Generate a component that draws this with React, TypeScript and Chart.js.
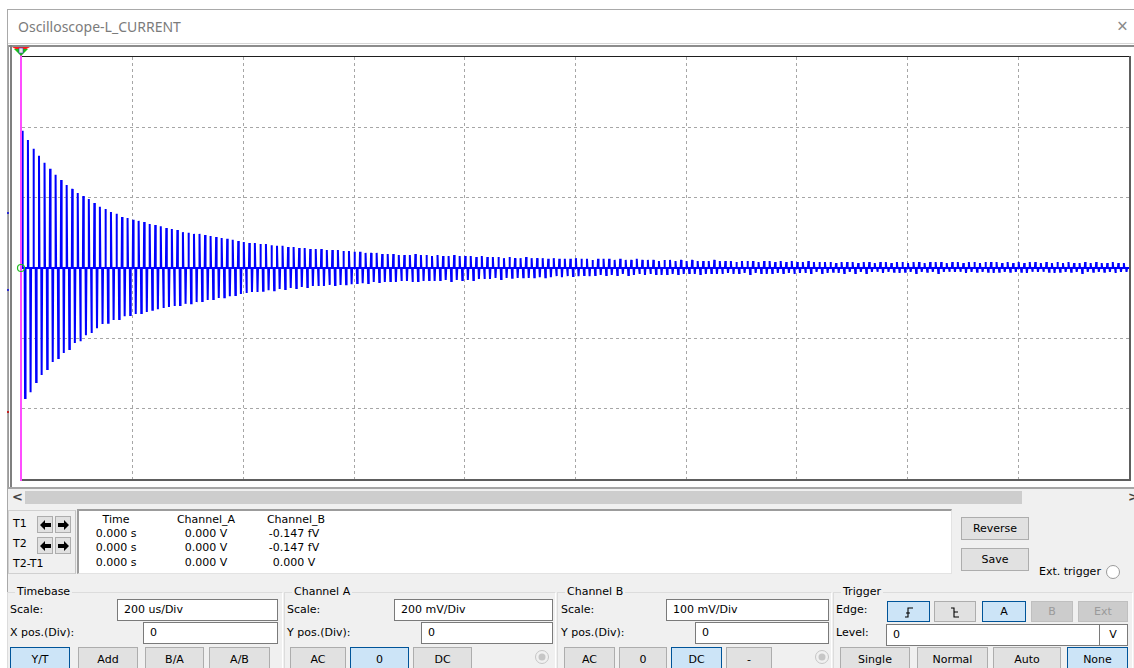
import React, { useEffect, useRef } from "react";
import { Chart, registerables } from "chart.js";

Chart.register(...registerables);

// ---- Scope settings ----
const TIME_MIN_US = 0;
const TIME_MAX_US = 2000; // 10 div x 200 us/Div
const TIME_STEP_US = 200;
const CHA_MIN_MV = -600; // 6 div x 200 mV/Div
const CHA_MAX_MV = 600;
const CHA_STEP_MV = 200;
const CHB_MIN_MV = -300; // 100 mV/Div
const CHB_MAX_MV = 300;
const CYCLE_US = 10; // one positive + one negative spike per cycle
const NEG_DELAY_US = 4.8;

// ---- Channel A: peak of each positive spike (mV), cycle by cycle ----
const posPeakMv = [
  390, 364, 339, 319, 299, 282, 265, 250, 236, 225, 213, 205, 196, 185, 174, 168, 159, 154, 145, 142, 137,
  134, 131, 125, 122, 119, 114, 111, 108, 102, 100, 97, 97, 94, 91, 88, 85, 83, 80, 77, 74,
  71, 71, 68, 68, 65, 63, 63, 60, 60, 57, 57, 54, 54, 54, 51, 51, 51,
  48, 48, 46, 46, 43, 43, 43, 40, 40, 40, 37,
  37, 37, 40, 37, 37, 34, 37, 34, 34, 37, 34, 34,
  34, 31, 34, 31, 31, 31, 28, 31, 28, 28, 31, 28, 28,
  28, 26, 28, 26, 26, 26, 28, 26, 26, 23, 26,
  26, 26, 23, 26, 23, 23, 26, 23, 23, 23, 20, 23, 23, 20, 23, 20, 23, 20,
  20, 20, 23, 20, 20, 20, 17, 20, 20, 20, 17, 20, 20, 17, 20, 17, 20, 17,
  17, 20, 17, 17, 17, 17, 14, 17, 17, 17, 14, 17, 17, 14, 17, 17, 14, 17,
  17, 14, 17, 17, 14, 17, 17, 17, 14, 17, 17, 14, 17, 17, 14, 17, 17, 17, 14,
  17, 14, 17, 14, 17, 17, 14, 17, 14, 17, 14, 17, 14, 14, 17, 14, 17, 14, 14, 17, 14, 14,
];

// ---- Channel A: depth of each negative spike (mV), cycle by cycle ----
const negPeakMv = [
  -370, -353, -324, -304, -287, -267, -256, -242, -230, -213, -208, -191, -185, -171, -159, -156, -148, -145, -137, -134, -131,
  -128, -125, -119, -117, -114, -111, -108, -105, -102, -100, -97, -94, -91, -88, -85, -83, -80, -77, -74, -71,
  -68, -68, -65, -63, -63, -60, -60, -57, -57, -54, -54, -51, -51, -51, -48, -48, -48,
  -46, -46, -43, -43, -43, -40, -40, -40, -37, -40, -37,
  -37, -40, -37, -37, -34, -37, -34, -34, -37, -34, -34, -34,
  -34, -31, -31, -31, -28, -31, -28, -28, -28, -26, -28, -26, -26,
  -26, -26, -23, -26, -23, -23, -23, -20, -23, -20, -20,
  -20, -20, -20, -17, -20, -20, -17, -20, -17, -17, -20, -17, -17, -17, -17, -14, -17, -17,
  -17, -14, -17, -17, -14, -17, -14, -14, -17, -14, -14, -17, -14, -14, -14, -14, -17, -14,
  -14, -14, -11, -14, -14, -11, -14, -14, -11, -14, -11, -14, -11, -11, -14, -11, -11, -14,
  -11, -11, -14, -11, -11, -11, -14, -11, -11, -11, -11, -14, -11, -11, -11, -11, -14, -11, -11,
  -11, -11, -11, -14, -11, -11, -11, -11, -14, -11, -11, -11, -11, -14, -11, -11, -11, -11, -11, -14, -11, -11,
];

// ---- Channel B trace (time us, value mV) ----
const chBTimeUs = [0, 0, 2000];
const chBValueMv = [100, 0, 0];

// ---- Readout table ----
const readHeaders = ["Time", "Channel_A", "Channel_B"];
const readRows = [
  ["0.000 s", "0.000 V", "-0.147 fV"],
  ["0.000 s", "0.000 V", "-0.147 fV"],
  ["0.000 s", "0.000 V", "0.000 V"],
];

const FONT = '"DejaVu Sans", Verdana, sans-serif';

type TxtProps = { x: number; y: number; children: React.ReactNode; center?: boolean; color?: string; size?: number; font?: string; weight?: number };
function Txt({ x, y, children, center, color = "#000", size = 11, font = FONT, weight }: TxtProps) {
  return (
    <div
      style={{
        position: "absolute",
        left: x,
        top: y - 8,
        height: 16,
        lineHeight: "16px",
        fontSize: size,
        fontFamily: font,
        fontWeight: weight,
        color,
        whiteSpace: "nowrap",
        transform: center ? "translateX(-50%)" : undefined,
      }}
    >
      {children}
    </div>
  );
}

function Box({ x, y, w, h, style }: { x: number; y: number; w: number; h: number; style?: React.CSSProperties }) {
  return <div style={{ position: "absolute", left: x, top: y, width: w, height: h, boxSizing: "border-box", ...style }} />;
}

type BtnProps = { x: number; y: number; w: number; h: number; label?: React.ReactNode; state?: "n" | "s" | "d" };
function Btn({ x, y, w, h, label, state = "n" }: BtnProps) {
  const bg = state === "s" ? "#cce4f7" : state === "d" ? "#cccccc" : "#e1e1e1";
  const bd = state === "s" ? "#005499" : state === "d" ? "#bfbfbf" : "#adadad";
  const col = state === "d" ? "#9a9a9a" : "#000";
  return (
    <div
      style={{
        position: "absolute",
        left: x,
        top: y,
        width: w,
        height: h,
        boxSizing: "border-box",
        background: bg,
        border: `1px solid ${bd}`,
        color: col,
        fontFamily: FONT,
        fontSize: 11,
        display: "flex",
        alignItems: "center",
        justifyContent: "center",
      }}
    >
      {label}
    </div>
  );
}

function Input({ x, y, w, h, text }: { x: number; y: number; w: number; h: number; text: string }) {
  return (
    <div
      style={{
        position: "absolute",
        left: x,
        top: y,
        width: w,
        height: h,
        boxSizing: "border-box",
        background: "#fff",
        border: "1px solid #7a7a7a",
        fontFamily: FONT,
        fontSize: 11,
        lineHeight: `${h - 2}px`,
        paddingLeft: 6,
        whiteSpace: "nowrap",
      }}
    >
      {text}
    </div>
  );
}

function Arrow({ x, y, dir }: { x: number; y: number; dir: "l" | "r" }) {
  const pts = dir === "l" ? "2,8 7,3 7,6 13,6 13,10 7,10 7,13" : "13,8 8,3 8,6 2,6 2,10 8,10 8,13";
  return (
    <div style={{ position: "absolute", left: x, top: y, width: 16, height: 17, boxSizing: "border-box", background: "#e1e1e1", border: "1px solid #adadad" }}>
      <svg width={14} height={15} style={{ position: "absolute", left: 0, top: 0 }}>
        <polygon points={pts} fill="#000" />
      </svg>
    </div>
  );
}

function Radio({ x, y, disabled }: { x: number; y: number; disabled?: boolean }) {
  return (
    <svg width={16} height={16} style={{ position: "absolute", left: x - 8, top: y - 8 }}>
      <circle cx={8} cy={8} r={6.5} fill={disabled ? "#f0f0f0" : "#fff"} stroke={disabled ? "#c6c6c6" : "#9a9a9a"} strokeWidth={1} />
      {disabled && <circle cx={8} cy={8} r={3.5} fill="#c6c6c6" />}
    </svg>
  );
}

function Group({ x, y, w, label }: { x: number; y: number; w: number; label: string }) {
  return (
    <>
      <Box x={x} y={y} w={w} h={120} style={{ borderTop: "1px solid #dcdcdc", borderLeft: "1px solid #dcdcdc", borderRight: "1px solid #ffffff" }} />
      <div style={{ position: "absolute", left: x + 8, top: y - 8, height: 16, lineHeight: "16px", padding: "0 2px", background: "#f0f0f0", fontFamily: FONT, fontSize: 11 }}>{label}</div>
    </>
  );
}

export default function App() {
  const ref = useRef<HTMLCanvasElement>(null);

  useEffect(() => {
    document.body.style.margin = "0";
    const n = Math.min(posPeakMv.length, negPeakMv.length);
    const pts: { x: number; y: number }[] = [];
    for (let k = 0; k < n; k++) {
      const t = k * CYCLE_US;
      pts.push({ x: t, y: 0 });
      pts.push({ x: t + 0.7, y: posPeakMv[k] });
      pts.push({ x: t + 1.6, y: 0 });
      pts.push({ x: t + NEG_DELAY_US, y: 0 });
      pts.push({ x: t + NEG_DELAY_US + 0.7, y: negPeakMv[k] });
      pts.push({ x: t + NEG_DELAY_US + 1.6, y: 0 });
    }
    pts.push({ x: TIME_MAX_US, y: 0 });
    const ptsB = chBTimeUs.map((t, i) => ({ x: t, y: chBValueMv[i] }));

    const gridColor = (min: number, max: number) => (ctx: any) => {
      const v = ctx.tick ? ctx.tick.value : null;
      return v === min || v === max ? "rgba(0,0,0,0)" : "#a6a6a6";
    };

    const chart = new Chart(ref.current!, {
      type: "line",
      data: {
        datasets: [
          { label: "Channel_A", data: pts, borderColor: "#0000ff", borderWidth: 2, pointRadius: 0, tension: 0, yAxisID: "y" },
          { label: "Channel_B", data: ptsB, borderColor: "#ff6a1a", borderWidth: 1.5, pointRadius: 0, tension: 0, yAxisID: "yB" },
        ],
      },
      options: {
        animation: false,
        responsive: false,
        devicePixelRatio: 1,
        events: [],
        layout: { padding: 0 },
        plugins: { legend: { display: false }, tooltip: { enabled: false }, title: { display: false } },
        scales: {
          x: {
            type: "linear",
            min: TIME_MIN_US,
            max: TIME_MAX_US,
            ticks: { display: false, stepSize: TIME_STEP_US },
            grid: { color: gridColor(TIME_MIN_US, TIME_MAX_US), drawTicks: false, lineWidth: 1 },
            border: { display: false, dash: [3, 3] },
          },
          y: {
            type: "linear",
            min: CHA_MIN_MV,
            max: CHA_MAX_MV,
            ticks: { display: false, stepSize: CHA_STEP_MV },
            grid: { color: gridColor(CHA_MIN_MV, CHA_MAX_MV), drawTicks: false, lineWidth: 1 },
            border: { display: false, dash: [3, 3] },
          },
          yB: { type: "linear", display: false, min: CHB_MIN_MV, max: CHB_MAX_MV },
        },
      } as any,
    });
    return () => chart.destroy();
  }, []);

  const colX = [116, 206, 296];
  const rowY = [534, 548, 563];

  return (
    <div style={{ position: "fixed", left: 0, top: 0, width: 1134, height: 668, overflow: "hidden", background: "#fff", fontFamily: FONT }}>
      {/* window frame */}
      <Box x={7} y={9} w={1140} h={700} style={{ borderTop: "1px solid #a9a9a9", borderLeft: "1px solid #a9a9a9" }} />
      <Txt x={18} y={27} color="#7b7b7b" size={14} font='"Noto Sans", "Open Sans", sans-serif'>Oscilloscope-L_CURRENT</Txt>
      <Txt x={1117} y={26} color="#8a8a8a" size={19} font='"Noto Sans", sans-serif'>×</Txt>
      <Box x={8} y={43} w={1126} h={1} style={{ background: "#d6d6d6" }} />
      <Box x={8} y={45} w={1126} h={2} style={{ background: "#8c8c8c" }} />
      {/* left frame lines */}
      <Box x={8} y={45} w={1} h={444} style={{ background: "#9a9a9a" }} />
      <Box x={10} y={45} w={2} h={444} style={{ background: "#7f7f7f" }} />

      {/* plot */}
      <canvas ref={ref} width={1107} height={422} style={{ position: "absolute", left: 22, top: 57, width: 1107, height: 422 }} />
      <Box x={21} y={56} w={1110} h={1} style={{ background: "#1e1e1e" }} />
      <Box x={1129} y={56} w={2} h={425} style={{ background: "#5e5e5e" }} />
      <Box x={21} y={479} w={1110} h={2} style={{ background: "#5e5e5e" }} />
      <Box x={20} y={48} w={2} h={433} style={{ background: "#ff4dff" }} />
      <svg width={24} height={12} style={{ position: "absolute", left: 9, top: 46 }}>
        <polygon points="3,1 21,1 12,6" fill="#ff1a1a" />
        <polygon points="5,3 19,3 12,10" fill="#16c016" />
        <rect x={10} y={2} width={4} height={5} fill="#e8e8e8" stroke="#4040c0" strokeWidth={0.6} />
      </svg>
      <svg width={10} height={10} style={{ position: "absolute", left: 16, top: 263 }}>
        <circle cx={5} cy={5} r={3.5} fill="none" stroke="#22bb22" strokeWidth={1.2} />
      </svg>
      <Box x={7} y={212} w={2} h={2} style={{ background: "#2b2bd0" }} />
      <Box x={7} y={289} w={2} h={2} style={{ background: "#2b2bd0" }} />
      <Box x={7} y={411} w={2} h={2} style={{ background: "#c02020" }} />

      {/* below plot */}
      <Box x={8} y={487} w={1126} h={2} style={{ background: "#a5a5a5" }} />
      <Box x={8} y={489} w={1126} h={180} style={{ background: "#f0f0f0" }} />
      <Box x={25} y={491} w={997} h={13} style={{ background: "#cdcdcd" }} />
      <Txt x={12} y={497} color="#444" size={13} weight={700}>&lt;</Txt>
      <Txt x={1128} y={497} color="#444" size={13} weight={700}>&gt;</Txt>

      {/* cursor readout */}
      <Box x={8} y={510} w={68} h={64} style={{ border: "1px solid #d0d0d0", borderRight: "1px solid #c4c4c4" }} />
      <Txt x={13} y={524}>T1</Txt>
      <Txt x={13} y={544}>T2</Txt>
      <Txt x={13} y={564}>T2-T1</Txt>
      <Arrow x={37} y={516} dir="l" />
      <Arrow x={55} y={516} dir="r" />
      <Arrow x={37} y={537} dir="l" />
      <Arrow x={55} y={537} dir="r" />
      <Box x={77} y={509} w={875} h={65} style={{ background: "#fff", borderTop: "2px solid #9c9c9c", borderLeft: "2px solid #9c9c9c", borderRight: "1px solid #e3e3e3", borderBottom: "1px solid #e3e3e3" }} />
      {readHeaders.map((h, i) => (
        <Txt key={h} x={colX[i]} y={520} center>{h}</Txt>
      ))}
      {readRows.map((row, r) =>
        row.map((v, c) => (
          <Txt key={`${r}-${c}`} x={colX[c] - (c === 2 ? 2 : 0)} y={rowY[r]} center>{v}</Txt>
        ))
      )}
      <Btn x={961} y={517} w={68} h={23} label="Reverse" />
      <Btn x={961} y={548} w={68} h={23} label="Save" />
      <Txt x={1039} y={572}>Ext. trigger</Txt>
      <Radio x={1113} y={572} />

      {/* groups */}
      <Group x={7} y={592} w={276} label="Timebase" />
      <Group x={284} y={592} w={272} label="Channel A" />
      <Group x={557} y={592} w={275} label="Channel B" />
      <Group x={833} y={592} w={300} label="Trigger" />

      {/* timebase */}
      <Txt x={10} y={610}>Scale:</Txt>
      <Input x={117} y={599} w={161} h={22} text="200 us/Div" />
      <Txt x={10} y={633}>X pos.(Div):</Txt>
      <Input x={143} y={622} w={135} h={22} text="0" />
      <Btn x={10} y={647} w={60} h={24} label="Y/T" state="s" />
      <Btn x={78} y={647} w={60} h={24} label="Add" />
      <Btn x={145} y={647} w={59} h={24} label="B/A" />
      <Btn x={209} y={647} w={61} h={24} label="A/B" />

      {/* channel A */}
      <Txt x={287} y={610}>Scale:</Txt>
      <Input x={394} y={599} w={159} h={22} text="200 mV/Div" />
      <Txt x={287} y={633}>Y pos.(Div):</Txt>
      <Input x={421} y={622} w={132} h={22} text="0" />
      <Btn x={290} y={647} w={56} h={24} label="AC" />
      <Btn x={350} y={647} w={59} h={24} label="0" state="s" />
      <Btn x={413} y={647} w={59} h={24} label="DC" />
      <Radio x={542} y={657} disabled />

      {/* channel B */}
      <Txt x={561} y={610}>Scale:</Txt>
      <Input x={666} y={599} w={163} h={22} text="100 mV/Div" />
      <Txt x={561} y={633}>Y pos.(Div):</Txt>
      <Input x={695} y={622} w={134} h={22} text="0" />
      <Btn x={564} y={647} w={51} h={24} label="AC" />
      <Btn x={619} y={647} w={48} h={24} label="0" />
      <Btn x={671} y={647} w={51} h={24} label="DC" state="s" />
      <Btn x={726} y={647} w={46} h={24} label="-" />
      <Radio x={822} y={657} disabled />

      {/* trigger */}
      <Txt x={836} y={610}>Edge:</Txt>
      <Btn
        x={887}
        y={601}
        w={43}
        h={21}
        state="s"
        label={
          <svg width={12} height={12}>
            <path d="M2 11 H5 V2 H10 M3 7 H7" stroke="#000" strokeWidth={1.1} fill="none" />
          </svg>
        }
      />
      <Btn
        x={934}
        y={601}
        w={42}
        h={21}
        label={
          <svg width={12} height={12}>
            <path d="M2 2 H5 V11 H10 M5 6 H9" stroke="#000" strokeWidth={1.1} fill="none" />
          </svg>
        }
      />
      <Btn x={982} y={601} w={44} h={21} label="A" state="s" />
      <Btn x={1031} y={601} w={42} h={21} label="B" state="d" />
      <Btn x={1078} y={601} w={50} h={21} label="Ext" state="d" />
      <Txt x={836} y={633}>Level:</Txt>
      <Input x={886} y={624} w={214} h={22} text="0" />
      <Box x={1099} y={624} w={29} h={22} style={{ background: "#fff", border: "1px solid #7a7a7a" }} />
      <Txt x={1113} y={635} center>V</Txt>
      <Btn x={840} y={647} w={70} h={24} label="Single" />
      <Btn x={917} y={647} w={71} h={24} label="Normal" />
      <Btn x={993} y={647} w={68} h={24} label="Auto" />
      <Btn x={1067} y={647} w={61} h={24} label="None" state="s" />
    </div>
  );
}
